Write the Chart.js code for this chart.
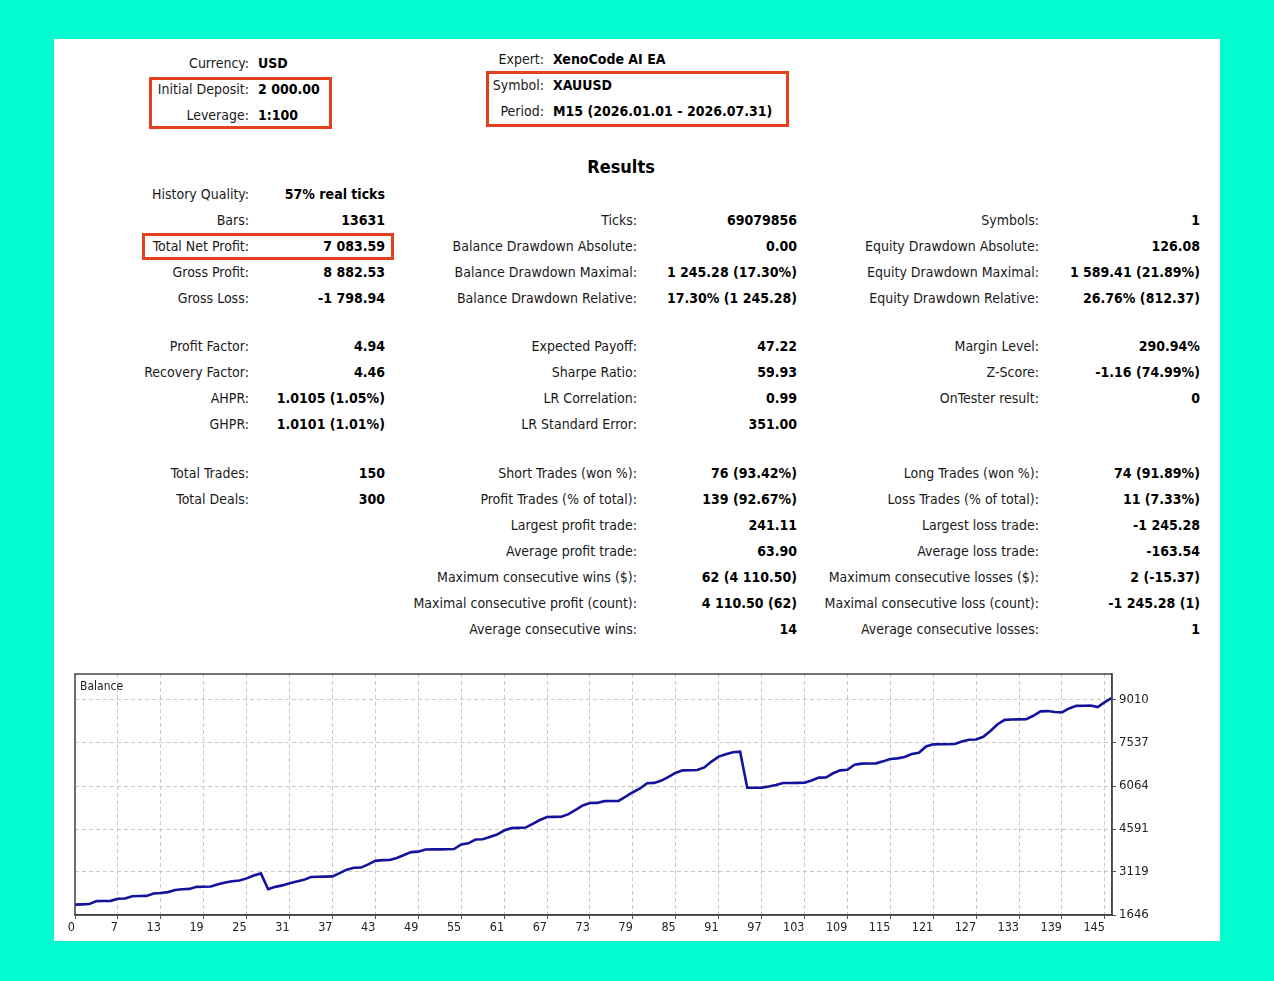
<!DOCTYPE html>
<html>
<head>
<meta charset="utf-8">
<script src="https://cdn.jsdelivr.net/npm/chart.js@4.4.1/dist/chart.umd.min.js"></script>
<style>
  html, body { margin: 0; padding: 0; }
  body { width: 1274px; height: 981px; background: #00fccf; position: relative; overflow: hidden;
         font-family: "DejaVu Sans Condensed", "Liberation Sans", sans-serif; font-size: 14px; color: #1a1a1a; }
  #panel { position: absolute; left: 54px; top: 39px; width: 1166px; height: 902px; background: #fff; }
  .t { position: absolute; height: 26px; line-height: 26px; white-space: nowrap; }
  .v { font-weight: bold; color: #000; }
  .box { position: absolute; border: 3px solid #e5401d; box-sizing: border-box; }
  #results { position: absolute; left: 0; width: 1242px; top: 156px; text-align: center; font-weight: bold; font-size: 18px; color: #000; }
  #chartWrap { position: absolute; left: 54px; top: 664px; width: 1166px; height: 277px; }
  #balLabel { position: absolute; left: 80px; top: 679px; font-size: 12px; color: #222; }
</style>
</head>
<body>
<div id="panel"></div>
<div id="stats"></div>
<div id="results">Results</div>
<div class="box" style="left:149px;top:77px;width:183px;height:52px"></div>
<div class="box" style="left:486px;top:71px;width:303px;height:56px"></div>
<div class="box" style="left:142px;top:233px;width:252px;height:27px"></div>
<div id="chartWrap"><canvas id="balanceChart"></canvas></div>
<div id="balLabel">Balance</div>
<script>
// balance after each trade
const balance = [
  2000, 2010, 2020, 2120, 2125, 2130, 2200, 2210, 2290, 2295,
  2300, 2380, 2400, 2430, 2500, 2530, 2540, 2610, 2615, 2620,
  2700, 2760, 2800, 2830, 2900, 3000, 3070, 2530, 2610, 2660,
  2730, 2790, 2850, 2950, 2955, 2960, 2970, 3080, 3200, 3262,
  3270, 3380, 3500, 3525, 3530, 3600, 3700, 3800, 3815, 3890,
  3892, 3895, 3900, 3905, 4060, 4100, 4230, 4240, 4320, 4400,
  4540, 4620, 4630, 4640, 4770, 4900, 5000, 5005, 5010, 5100,
  5250, 5400, 5480, 5485, 5545, 5550, 5555, 5700, 5850, 5980,
  6160, 6170, 6250, 6380, 6520, 6600, 6605, 6610, 6700, 6900,
  7070, 7150, 7220, 7240, 6006, 6006, 6010, 6050, 6100, 6165,
  6167, 6170, 6175, 6250, 6350, 6355, 6500, 6600, 6620, 6790,
  6830, 6835, 6840, 6908, 6990, 7010, 7060, 7160, 7200, 7420,
  7490, 7492, 7495, 7500, 7590, 7650, 7655, 7750, 7950, 8180,
  8330, 8343, 8345, 8350, 8470, 8620, 8630, 8600, 8585, 8720,
  8810, 8815, 8820, 8765, 8935, 9084
];
const xTickValues = [0, 6, 12, 18, 24, 30, 36, 42, 48, 54, 60, 66, 72, 78, 84, 90, 96, 102, 108, 114, 120, 126, 132, 138, 144];
const xTickLabels = ['0', '7', '13', '19', '25', '31', '37', '43', '49', '55', '61', '67', '73', '79', '85', '91', '97', '103', '109', '115', '121', '127', '133', '139', '145'];
const yTickValues = [1646, 3119, 4591, 6064, 7537, 9010];

// report text: [column, y, label, value]
const headerRows = [
  [0, 63, 'Currency:', 'USD'], [0, 89, 'Initial Deposit:', '2 000.00'], [0, 115, 'Leverage:', '1:100'],
  [1, 59, 'Expert:', 'XenoCode AI EA'], [1, 85, 'Symbol:', 'XAUUSD'], [1, 111, 'Period:', 'M15 (2026.01.01 - 2026.07.31)']
];
const statRows = [
  [0, 194, 'History Quality:', '57% real ticks'], [0, 220, 'Bars:', '13631'], [0, 246, 'Total Net Profit:', '7 083.59'],
  [0, 272, 'Gross Profit:', '8 882.53'], [0, 298, 'Gross Loss:', '-1 798.94'], [0, 346, 'Profit Factor:', '4.94'],
  [0, 372, 'Recovery Factor:', '4.46'], [0, 398, 'AHPR:', '1.0105 (1.05%)'], [0, 424, 'GHPR:', '1.0101 (1.01%)'],
  [0, 473, 'Total Trades:', '150'], [0, 499, 'Total Deals:', '300'],
  [1, 220, 'Ticks:', '69079856'], [1, 246, 'Balance Drawdown Absolute:', '0.00'],
  [1, 272, 'Balance Drawdown Maximal:', '1 245.28 (17.30%)'], [1, 298, 'Balance Drawdown Relative:', '17.30% (1 245.28)'],
  [1, 346, 'Expected Payoff:', '47.22'], [1, 372, 'Sharpe Ratio:', '59.93'], [1, 398, 'LR Correlation:', '0.99'],
  [1, 424, 'LR Standard Error:', '351.00'], [1, 473, 'Short Trades (won %):', '76 (93.42%)'],
  [1, 499, 'Profit Trades (% of total):', '139 (92.67%)'], [1, 525, 'Largest profit trade:', '241.11'],
  [1, 551, 'Average profit trade:', '63.90'], [1, 577, 'Maximum consecutive wins ($):', '62 (4 110.50)'],
  [1, 603, 'Maximal consecutive profit (count):', '4 110.50 (62)'], [1, 629, 'Average consecutive wins:', '14'],
  [2, 220, 'Symbols:', '1'], [2, 246, 'Equity Drawdown Absolute:', '126.08'],
  [2, 272, 'Equity Drawdown Maximal:', '1 589.41 (21.89%)'], [2, 298, 'Equity Drawdown Relative:', '26.76% (812.37)'],
  [2, 346, 'Margin Level:', '290.94%'], [2, 372, 'Z-Score:', '-1.16 (74.99%)'], [2, 398, 'OnTester result:', '0'],
  [2, 473, 'Long Trades (won %):', '74 (91.89%)'], [2, 499, 'Loss Trades (% of total):', '11 (7.33%)'],
  [2, 525, 'Largest loss trade:', '-1 245.28'], [2, 551, 'Average loss trade:', '-163.54'],
  [2, 577, 'Maximum consecutive losses ($):', '2 (-15.37)'], [2, 603, 'Maximal consecutive loss (count):', '-1 245.28 (1)'],
  [2, 629, 'Average consecutive losses:', '1']
];

const stats = document.getElementById('stats');
function addText(txt, cls, y, left, right) {
  const d = document.createElement('div');
  d.className = cls;
  d.textContent = txt;
  d.style.top = (y - 13) + 'px';
  if (left != null) d.style.left = left + 'px';
  if (right != null) { d.style.right = (1274 - right) + 'px'; d.style.textAlign = 'right'; }
  stats.appendChild(d);
}
const headCols = [[249, 258], [544, 553]];
headerRows.forEach(r => {
  addText(r[2], 't', r[1], null, headCols[r[0]][0]);
  addText(r[3], 't v', r[1], headCols[r[0]][1], null);
});
const statCols = [[249, 385], [637, 797], [1039, 1200]];
statRows.forEach(r => {
  addText(r[2], 't', r[1], null, statCols[r[0]][0]);
  addText(r[3], 't v', r[1], null, statCols[r[0]][1]);
});

// frame round the plot area
const frame = {
  id: 'frame',
  afterDraw(chart) {
    const a = chart.chartArea, c = chart.ctx;
    c.save();
    c.strokeStyle = '#444';
    c.lineWidth = 1.5;
    c.strokeRect(a.left, a.top, a.right - a.left, a.bottom - a.top);
    c.restore();
  }
};

const tickFont = '"DejaVu Sans Condensed", "Liberation Sans", sans-serif';
const ctx = document.getElementById('balanceChart').getContext('2d');
new Chart(ctx, {
  type: 'line',
  data: {
    datasets: [{
      label: 'Balance',
      data: balance.map((v, i) => ({ x: i, y: v })),
      borderColor: '#13139c',
      borderWidth: 2.6,
      pointRadius: 0,
      tension: 0,
      fill: false
    }]
  },
  options: {
    responsive: true,
    maintainAspectRatio: false,
    animation: false,
    layout: { padding: { left: 21, top: 10, right: 0, bottom: 0 } },
    plugins: { legend: { display: false }, tooltip: { enabled: false } },
    scales: {
      x: {
        type: 'linear',
        min: 0,
        max: 145,
        afterBuildTicks: s => { s.ticks = xTickValues.map(v => ({ value: v })); },
        afterFit: s => { s.height = 26; s.paddingLeft = 0; s.paddingRight = 0; },
        ticks: {
          autoSkip: false,
          maxRotation: 0,
          align: 'end',
          padding: 1,
          color: '#222',
          font: { family: tickFont, size: 12.5 },
          callback: (v, i) => xTickLabels[i]
        },
        grid: { color: '#c9c9c9', lineWidth: 1, tickLength: 4, tickColor: '#555', tickBorderDash: [] },
        border: { display: true, color: '#444', width: 1.5, dash: [4, 3] }
      },
      y: {
        position: 'right',
        min: 1646,
        max: 9900,
        afterBuildTicks: s => { s.ticks = yTickValues.map(v => ({ value: v })); },
        afterFit: s => { s.width = 108; s.paddingTop = 0; s.paddingBottom = 0; },
        ticks: {
          padding: 3,
          color: '#222',
          font: { family: tickFont, size: 13 },
          callback: v => String(v)
        },
        grid: { color: '#c9c9c9', lineWidth: 1, tickLength: 4, tickColor: '#555', tickBorderDash: [] },
        border: { display: true, color: '#444', width: 1.5, dash: [4, 3] }
      }
    }
  },
  plugins: [frame]
});
</script>
</body>
</html>
